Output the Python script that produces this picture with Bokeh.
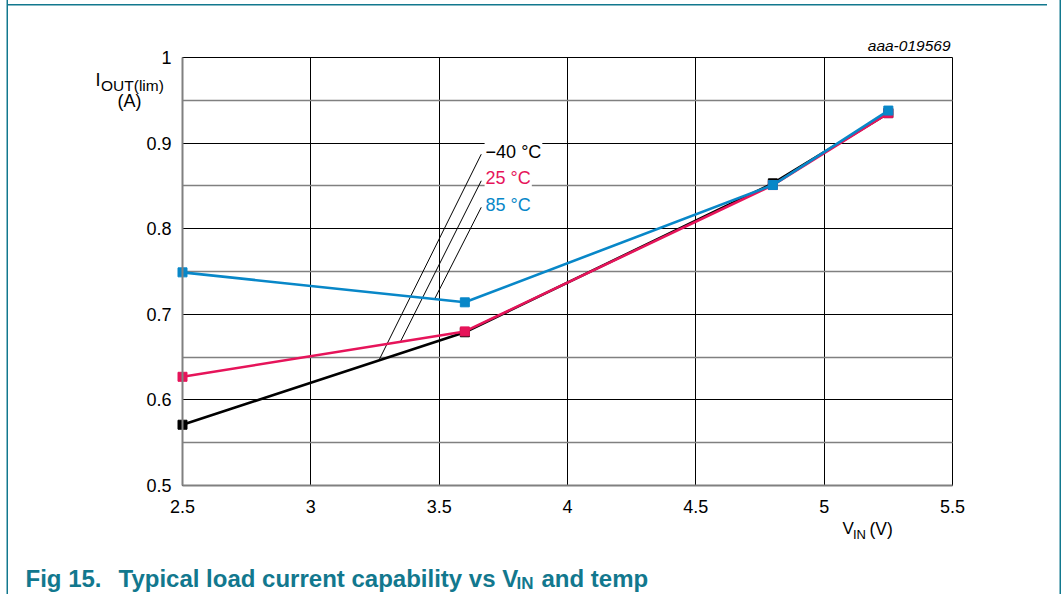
import numpy as np
from bokeh.plotting import figure
from bokeh.models import Range1d, FixedTicker, Grid, Label
from bokeh.embed import file_html
from bokeh.resources import INLINE

# ---------------- data ----------------
vin = [2.5, 3.6, 4.8, 5.25]
i_m40 = [0.571, 0.679, 0.853, 0.935]
i_25 = [0.627, 0.680, 0.851, 0.935]
i_85 = [0.749, 0.714, 0.851, 0.938]
series_values = [i_m40, i_25, i_85]
series_names = ["\u221240 \u00b0C", "25 \u00b0C", "85 \u00b0C"]
series_colors = ["#000000", "#e6145a", "#0887c8"]

x_ticks = [2.5, 3, 3.5, 4, 4.5, 5, 5.5]
x_tick_labels = ["2.5", "3", "3.5", "4", "4.5", "5", "5.5"]
y_ticks = [0.5, 0.6, 0.7, 0.8, 0.9, 1.0]
y_tick_labels = ["0.5", "0.6", "0.7", "0.8", "0.9", "1"]
y_minor = [0.55, 0.65, 0.75, 0.85, 0.95]
x_lim = (2.5, 5.5)
y_lim = (0.5, 1.0)

# leader lines from the series labels down to each curve
leader_x_top = [3.664, 3.664, 3.664]
leader_y_top = [0.887, 0.856, 0.825]
leader_x_curve = [3.265, 3.349, 3.482]
label_x = 3.677
label_y = [0.890, 0.859, 0.828]

TEAL = "#12788e"
FONT = "Liberation Sans"

# ---------------- layout ----------------
W, H = 1047, 594
# plot box position inside the canvas (pixels from top-left)
BX0, BX1, BY0, BY1 = 182.0, 952.0, 57.0, 485.0
sx = (x_lim[1] - x_lim[0]) / (BX1 - BX0)
sy = (y_lim[1] - y_lim[0]) / (BY1 - BY0)
x_range = Range1d(x_lim[0] - BX0 * sx, x_lim[1] + (W - BX1) * sx)
y_range = Range1d(y_lim[0] - (H - BY1) * sy, y_lim[1] + BY0 * sy)

def dx(px):
    return x_lim[0] + (px - BX0) * sx

def dy(py):
    return y_lim[0] + (BY1 - py) * sy

p = figure(width=W, height=H, x_range=x_range, y_range=y_range,
           output_backend="svg", toolbar_location=None,
           min_border=0, min_border_left=0, min_border_right=0,
           min_border_top=0, min_border_bottom=0)
p.background_fill_alpha = 0.0
p.border_fill_alpha = 0.0
p.outline_line_color = None
p.styles = {
    "background-color": "white",
    "box-shadow": ("inset 6.5px 0 0 0 white, inset 8px 0 0 0 " + TEAL + ", "
                   "inset 0 4px 0 0 white, inset 0 5.5px 0 0 " + TEAL + ", "
                   "12.5px 0 0 0 white, 14px 0 0 0 " + TEAL),
}

# axes pinned at the plot box edges
p.xaxis.fixed_location = y_lim[0]
p.xaxis.bounds = x_lim
p.yaxis.fixed_location = x_lim[0]
p.yaxis.bounds = y_lim
for ax in (p.xaxis[0], p.yaxis[0]):
    ax.axis_line_color = "#808080"
    ax.axis_line_width = 2
    ax.major_tick_in = 0
    ax.major_tick_out = 0
    ax.minor_tick_in = 0
    ax.minor_tick_out = 0
    ax.major_label_text_font = FONT
    ax.major_label_text_font_size = "18px"
    ax.major_label_text_color = "black"
p.xaxis.ticker = FixedTicker(ticks=x_ticks)
p.xaxis.major_label_overrides = {t: l for t, l in zip(x_ticks, x_tick_labels)}
p.xaxis.major_label_standoff = 14
p.yaxis.ticker = FixedTicker(ticks=y_ticks)
p.yaxis.major_label_overrides = {t: l for t, l in zip(y_ticks, y_tick_labels)}
p.yaxis.major_label_standoff = 11

# grids, limited to the plot box
p.xgrid.ticker = FixedTicker(ticks=x_ticks)
p.xgrid.grid_line_color = "black"
p.xgrid.grid_line_width = 1
p.xgrid.cross_bounds = y_lim
p.ygrid.ticker = FixedTicker(ticks=y_ticks)
p.ygrid.grid_line_color = "black"
p.ygrid.grid_line_width = 1
p.ygrid.cross_bounds = x_lim
minor_grid = Grid(dimension=1, ticker=FixedTicker(ticks=y_minor), cross_bounds=x_lim,
                  grid_line_color="#808080", grid_line_width=1.6)
p.add_layout(minor_grid)

# leader lines
leader_y_curve = [float(np.interp(xc, vin, vals)) for xc, vals in zip(leader_x_curve, series_values)]
p.segment(x0=leader_x_top, y0=leader_y_top, x1=leader_x_curve, y1=leader_y_curve,
          line_color="black", line_width=1)

# series
for vals, col in zip(series_values, series_colors):
    p.line(vin, vals, line_color=col, line_width=2.6)
    p.scatter(vin, vals, marker="square", size=9, fill_color=col, line_color=col)

# series labels
for name, ly, col in zip(series_names, label_y, series_colors):
    p.add_layout(Label(x=label_x, y=ly, text=name, text_font=FONT, text_font_size="18px",
                       text_color=col, text_baseline="alphabetic", text_align="left",
                       background_fill_color="white", padding=1))

def add_text(px, py, text, size, color="black", style="normal", align="left"):
    # px, py: canvas pixels (baseline) measured from the top-left corner
    py_adj = py - 0.39 * size
    p.add_layout(Label(x=dx(px), y=dy(py_adj), text=text,
                       text_font=FONT, text_font_size="%gpx" % size, text_color=color,
                       text_font_style=style, text_baseline="alphabetic", text_align=align))

# y axis title  I_OUT(lim) (A)
add_text(95, 87, "I", 18)
add_text(100.5, 91, "OUT(lim)", 15.5)
add_text(117, 108, "(A)", 18)

# x axis title  V_IN (V)
add_text(842, 535, "V", 17)
add_text(852.5, 539, "IN", 13)
add_text(869, 535, "(V)", 17.5)

# figure code
add_text(950, 51, "aaa-019569", 15.5, style="italic", align="right")

# caption
add_text(25, 587, "Fig 15.", 24, color=TEAL, style="bold")
add_text(118, 587, "Typical load current capability vs V", 24, color=TEAL, style="bold")
add_text(516, 590, "IN", 17, color=TEAL, style="bold")
add_text(541, 587, "and temp", 24, color=TEAL, style="bold")

open("out.html", "w").write(file_html(p, INLINE))
